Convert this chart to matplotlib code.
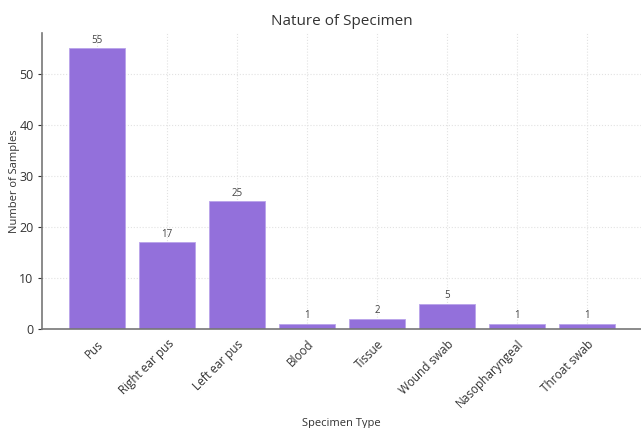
import matplotlib
matplotlib.use("Agg")
import matplotlib.pyplot as plt

categories = ["Pus", "Right ear pus", "Left ear pus", "Blood", "Tissue",
              "Wound swab", "Nasopharyngeal", "Throat swab"]
values = [55, 17, 25, 1, 2, 5, 1, 1]

plt.rcParams['font.family'] = ['Open Sans', 'DejaVu Sans']
fig = plt.figure(figsize=(6.41, 4.28), dpi=100)
ax = fig.add_axes([0.0655, 0.231, 0.9345, 0.692])

x = list(range(len(categories)))
bars = ax.bar(x, values, width=0.8, color="#9370DB", edgecolor="#b9a3ea", linewidth=0.6, zorder=2)
for xi, v in zip(x, values):
    ax.text(xi, v + 0.5, str(v), ha="center", va="bottom", fontsize=7, color="#444444")

ax.set_xticks(x)
ax.set_xticklabels(categories, rotation=45, ha="right", rotation_mode="anchor", fontsize=8.5, color="#333333")
ax.set_xlim(-0.79, 7.77)
ax.set_ylim(0, 58)
ax.set_yticks([0, 10, 20, 30, 40, 50])
ax.tick_params(axis='y', labelsize=9, colors="#333333", length=3, pad=3)
ax.tick_params(axis='x', length=0, pad=6)
ax.grid(True, color="#e2e2e2", linestyle=":", linewidth=0.8, zorder=0)
ax.set_axisbelow(True)
for s in ["top", "right"]:
    ax.spines[s].set_visible(False)
for s in ["left", "bottom"]:
    ax.spines[s].set_color("#777777")
    ax.spines[s].set_linewidth(1.2)

ax.set_title("Nature of Specimen", fontsize=11, color="#333333", pad=6)
ax.set_xlabel("Specimen Type", fontsize=8, color="#333333", labelpad=6)
ax.set_ylabel("Number of Samples", fontsize=8, color="#333333")
ax.yaxis.set_label_coords(-0.036, 0.5)

fig.savefig("out.png", dpi=100)
